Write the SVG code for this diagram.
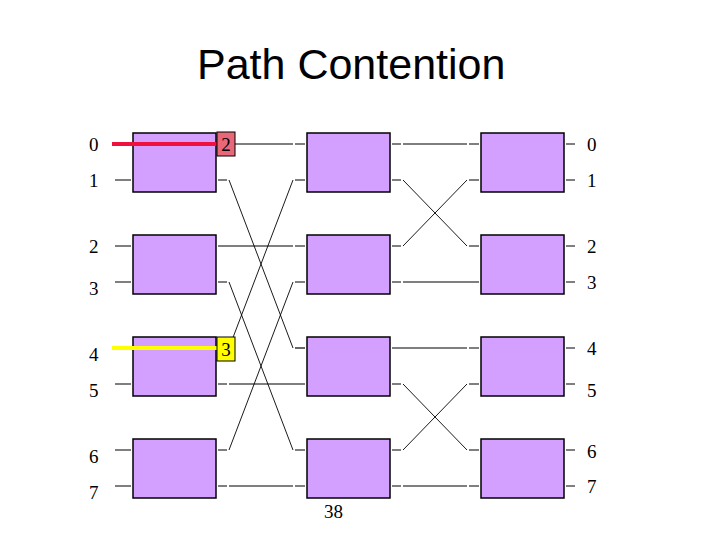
<svg xmlns="http://www.w3.org/2000/svg" width="720" height="540" viewBox="0 0 720 540">
<style>
.box{fill:#d4a0ff;stroke:#000;stroke-width:1.5}
.ln{stroke:#000;stroke-width:1.2;fill:none}
.dg{stroke:#000;stroke-width:0.9;fill:none}
.num{font-family:"Liberation Serif","Times New Roman",serif;font-size:19px;fill:#000}
.title{font-family:"Liberation Sans",Arial,sans-serif;font-size:43px;fill:#000}
</style>
<rect x="0" y="0" width="720" height="540" fill="#fff"/>
<text class="title" x="197" y="79">Path Contention</text>

<g id="connectors">
  <path class="ln" d="M115 180H131M115 246H131M115 282H131M115 384H131M115 450H131M115 486H131"/>
  <path class="ln" d="M235 144H293M295 144H305"/>
  <path class="ln" d="M218 180H227M295 180H305"/>
  <path class="ln" d="M218 246H293M295 246H305"/>
  <path class="ln" d="M218 282H227M295 282H305"/>
  <path class="ln" d="M295 348H305"/>
  <path class="ln" d="M218 384H227M229 384H305"/>
  <path class="ln" d="M218 450H227M295 450H305"/>
  <path class="ln" d="M218 486H227M229 486H293M295 486H305"/>
  <path class="dg" d="M229 180L293 348M229 282L293 450M229 348L293 180M229 450L293 282"/>
  <path class="ln" d="M392 144H401M403 144H467M469 144H479"/>
  <path class="ln" d="M392 180H401M469 180H479"/>
  <path class="ln" d="M392 246H401M469 246H479"/>
  <path class="ln" d="M392 282H401M403 282H479"/>
  <path class="ln" d="M392 348H467M469 348H479"/>
  <path class="ln" d="M392 384H401M469 384H479"/>
  <path class="ln" d="M392 450H401M469 450H479"/>
  <path class="ln" d="M392 486H401M403 486H467M469 486H479"/>
  <path class="dg" d="M403 180L467 246M403 246L467 180M403 384L467 450M403 450L467 384"/>
  <path class="ln" d="M566 144H575M566 180H575M566 246H575M566 282H575M566 348H575M566 384H575M566 450H575M566 486H575"/>
</g>

<g id="stage1">
  <rect id="s1b0" class="box" x="133" y="133" width="83" height="59"/>
  <rect id="s1b1" class="box" x="133" y="235" width="83" height="59"/>
  <rect id="s1b2" class="box" x="133" y="337" width="83" height="59"/>
  <rect id="s1b3" class="box" x="133" y="439" width="83" height="59"/>
</g>
<g id="stage2">
  <rect id="s2b0" class="box" x="307" y="133" width="83" height="59"/>
  <rect id="s2b1" class="box" x="307" y="235" width="83" height="59"/>
  <rect id="s2b2" class="box" x="307" y="337" width="83" height="59"/>
  <rect id="s2b3" class="box" x="307" y="439" width="83" height="59"/>
</g>
<g id="stage3">
  <rect id="s3b0" class="box" x="481" y="133" width="83" height="59"/>
  <rect id="s3b1" class="box" x="481" y="235" width="83" height="59"/>
  <rect id="s3b2" class="box" x="481" y="337" width="83" height="59"/>
  <rect id="s3b3" class="box" x="481" y="439" width="83" height="59"/>
</g>

<g id="path-red">
  <line x1="112" y1="144" x2="218" y2="144" stroke="#f0103c" stroke-width="4"/>
  <rect x="217" y="132" width="18" height="24" fill="#e8687a" stroke="#000" stroke-width="1"/>
  <text class="num" x="226" y="151" text-anchor="middle">2</text>
</g>
<g id="path-yellow">
  <line x1="112" y1="348" x2="218" y2="348" stroke="#ffff00" stroke-width="4"/>
  <rect x="217" y="337" width="18" height="24" fill="#ffff00" stroke="#000" stroke-width="1"/>
  <text class="num" x="226" y="356" text-anchor="middle">3</text>
</g>

<g id="inputs">
  <text class="num" x="89" y="151">0</text>
  <text class="num" x="89" y="187">1</text>
  <text class="num" x="89" y="253">2</text>
  <text class="num" x="89" y="295">3</text>
  <text class="num" x="89" y="361">4</text>
  <text class="num" x="89" y="397">5</text>
  <text class="num" x="89" y="463">6</text>
  <text class="num" x="89" y="499">7</text>
</g>
<g id="outputs">
  <text class="num" x="587" y="151">0</text>
  <text class="num" x="587" y="187">1</text>
  <text class="num" x="587" y="253">2</text>
  <text class="num" x="587" y="289">3</text>
  <text class="num" x="587" y="355">4</text>
  <text class="num" x="587" y="397">5</text>
  <text class="num" x="587" y="458">6</text>
  <text class="num" x="587" y="493">7</text>
</g>
<text class="num" x="324" y="518">38</text>
</svg>
